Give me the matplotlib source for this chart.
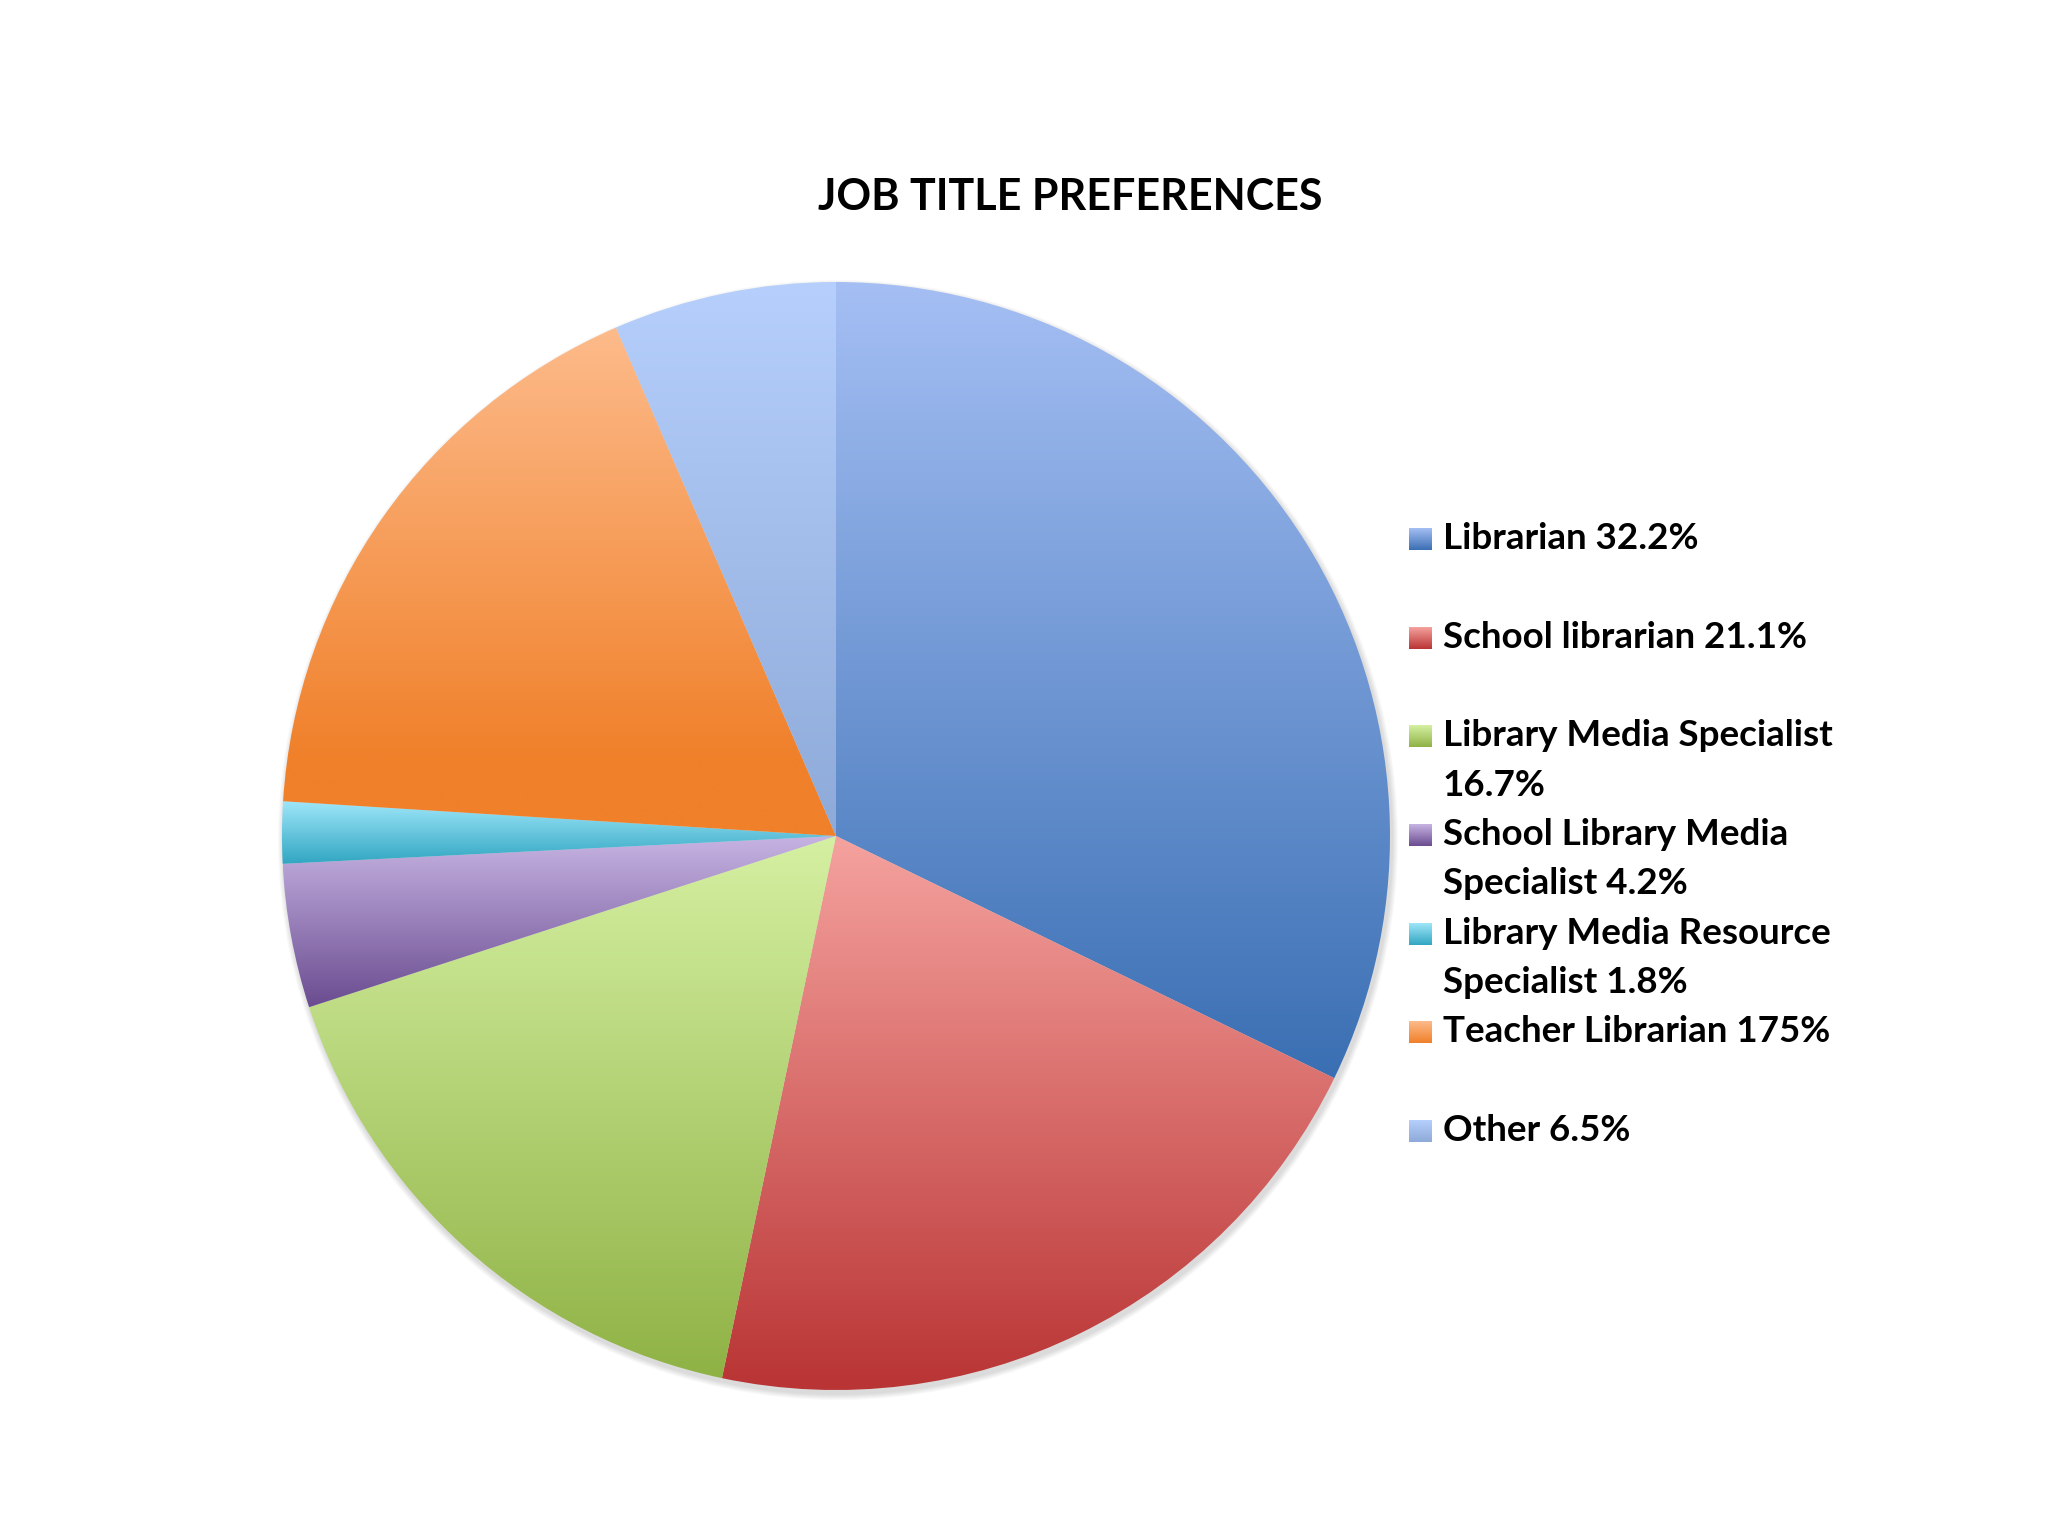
import numpy as np
import matplotlib
matplotlib.use("Agg")
import matplotlib.pyplot as plt
from matplotlib.colors import to_rgb
from matplotlib.patches import Circle

plt.rcParams['font.family'] = ['Lato', 'DejaVu Sans']

# data
title = "JOB TITLE PREFERENCES"
labels = ["Librarian 32.2%",
          "School librarian 21.1%",
          "Library Media Specialist\n16.7%",
          "School Library Media\nSpecialist 4.2%",
          "Library Media Resource\nSpecialist 1.8%",
          "Teacher Librarian 175%",
          "Other 6.5%"]
values = [32.2, 21.1, 16.7, 4.2, 1.8, 17.5, 6.5]
top_colors = ['#a5bff4', '#f5a29e', '#d5f0a2', '#c7b4e3', '#9fe6f9', '#fdbb8b', '#b6cffc']
bottom_colors = ['#3a6fb3', '#b93434', '#8fb245', '#6a4c90', '#31a6c2', '#f0802a', '#8eaad8']


def gradient(c_top, c_bot, n=256, stop=1.0):
    # vertical gradient, light on top, base colour at the bottom
    t = np.clip(np.linspace(0, 1, n) / stop, 0, 1)[:, None]
    a = np.array(to_rgb(c_top))
    b = np.array(to_rgb(c_bot))
    return (a + (b - a) * t)[:, None, :]


W, H = 2048, 1536
fig = plt.figure(figsize=(W / 100, H / 100), dpi=100)
ax = fig.add_axes([0, 0, 1, 1])

cx, cy, r = 836, 700, 554

# soft shadow under the pie
for k in range(6):
    ax.add_patch(Circle((cx + 2, cy - 4), r + 1 + k, color='#000000', alpha=0.025, lw=0, zorder=0))

wedges, _ = ax.pie(values, center=(cx, cy), radius=r, startangle=90, counterclock=False,
                   colors=['none'] * len(values), wedgeprops=dict(linewidth=0))

for w, ct, cb in zip(wedges, top_colors, bottom_colors):
    ang = np.radians(np.linspace(w.theta1, w.theta2, 200))
    xs = np.concatenate([[cx], cx + r * np.cos(ang)])
    ys = np.concatenate([[cy], cy + r * np.sin(ang)])
    stop = 0.85 if ct == '#fdbb8b' else 1.0
    im = ax.imshow(gradient(ct, cb, stop=stop), extent=(xs.min(), xs.max(), ys.min(), ys.max()),
                   origin='upper', aspect='auto', interpolation='bilinear', zorder=2)
    im.set_clip_path(w)

# title
ax.text(1070, H - 210, title, ha='center', va='baseline', fontsize=31, fontweight='bold', color='black')

# legend
row_h = 98.7
line_h = 49.3
base0 = 549
for i, (lab, ct, cb) in enumerate(zip(labels, top_colors, bottom_colors)):
    yb = base0 + i * row_h
    ax.imshow(gradient(ct, cb), extent=(1409, 1432, H - (yb + 1), H - (yb - 21)),
              origin='upper', aspect='auto', interpolation='bilinear', zorder=3)
    for j, part in enumerate(lab.split('\n')):
        ax.text(1443, H - (yb + j * line_h), part, ha='left', va='baseline',
                fontsize=26.5, fontweight='bold', color='black')

ax.set_xlim(0, W)
ax.set_ylim(0, H)
ax.set_aspect('equal')
ax.axis('off')
fig.savefig('out.png', dpi=100, facecolor='white')
